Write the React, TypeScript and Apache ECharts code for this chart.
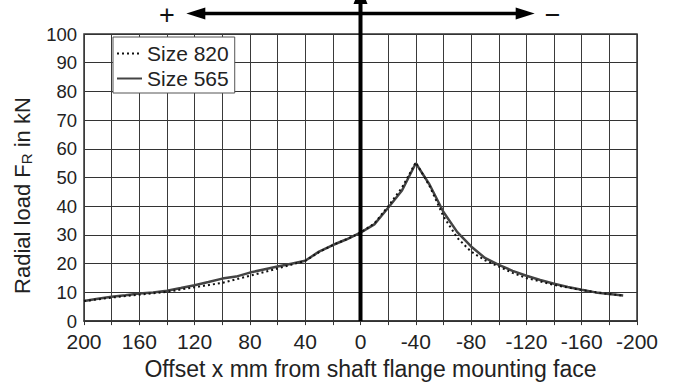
import React, { useEffect, useRef } from 'react';
import * as echarts from 'echarts';

const FONT = '"Liberation Sans", Arial, Helvetica, sans-serif';

// Offset x (mm) and radial load (kN)
const offsets565 = [200, 190, 180, 170, 160, 150, 140, 130, 120, 110, 100, 90, 80, 70, 60, 50, 40, 30, 20, 10, 0, -10, -20, -30, -40, -50, -60, -70, -80, -90, -100, -110, -120, -130, -140, -150, -160, -170, -180, -190];
const size565 = [7.0, 7.8, 8.5, 9.0, 9.6, 10.0, 10.6, 11.5, 12.5, 13.6, 14.8, 15.5, 16.9, 18.0, 19.0, 20.0, 21.0, 24.2, 26.5, 28.5, 30.8, 33.7, 39.5, 45.5, 55.0, 47.5, 38.0, 31.0, 26.0, 22.0, 19.6, 17.5, 15.8, 14.3, 13.0, 11.9, 10.9, 10.0, 9.4, 8.9];

const offsets820 = [200, 180, 160, 140, 120, 100, 80, 60, 40, 30, 20, 10, 0, -10, -20, -30, -40, -50, -60, -70, -80, -90, -100, -110, -120, -130, -140, -160, -180, -190];
const size820 = [7.0, 8.2, 9.2, 10.2, 11.8, 13.3, 15.8, 18.3, 21.0, 24.0, 26.5, 28.5, 30.8, 34.0, 40.0, 46.5, 55.3, 47.0, 36.5, 29.0, 24.2, 21.2, 19.0, 16.8, 15.0, 13.8, 12.6, 10.8, 9.4, 8.9];

const seriesNames = ['Size 820', 'Size 565'];

export default function App() {
  const ref = useRef<HTMLDivElement>(null);

  useEffect(() => {
    if (!ref.current) return;
    const chart = echarts.init(ref.current, undefined, { renderer: 'svg' });
    const option: any = {
      animation: false,
      backgroundColor: '#fff',
      grid: {
        left: 84, right: 37, top: 34, bottom: 60,
        show: true, borderColor: '#333', borderWidth: 1.5, backgroundColor: 'transparent',
      },
      legend: {
        orient: 'vertical', left: 113, top: 37,
        backgroundColor: '#fff', borderColor: '#555', borderWidth: 1,
        padding: [6, 6, 4, 3], itemGap: 4, itemWidth: 25, itemHeight: 14,
        itemStyle: { opacity: 0 },
        textStyle: { fontSize: 21, color: '#222', fontFamily: FONT },
        data: seriesNames,
      },
      xAxis: {
        type: 'value', inverse: true, min: -200, max: 200, interval: 40,
        axisLine: { show: true, onZero: false, lineStyle: { color: '#333', width: 1.5 } },
        axisTick: { show: true, inside: false, length: 4, lineStyle: { color: '#333' } },
        minorTick: { show: true, splitNumber: 2, length: 4, lineStyle: { color: '#333' } },
        splitLine: { show: true, lineStyle: { color: '#3a3a3a', width: 1 } },
        minorSplitLine: { show: true, lineStyle: { color: '#3a3a3a', width: 1 } },
        axisLabel: { fontSize: 21, color: '#222', margin: 10, fontFamily: FONT },
        name: 'Offset x mm from shaft flange mounting face',
        nameLocation: 'middle', nameGap: 33,
        nameTextStyle: { fontSize: 23, color: '#222', fontFamily: FONT, padding: [0, 0, 0, 20] },
      },
      yAxis: {
        type: 'value', min: 0, max: 100, interval: 10,
        axisLine: { show: true, lineStyle: { color: '#333', width: 1.5 } },
        axisTick: { show: true, inside: false, length: 4, lineStyle: { color: '#333' } },
        splitLine: { show: true, lineStyle: { color: '#333', width: 1 } },
        axisLabel: { fontSize: 18.5, color: '#222', margin: 7, fontFamily: FONT },
        name: 'Radial load F{sub|R} in kN',
        nameLocation: 'middle', nameGap: 50,
        nameTextStyle: {
          fontSize: 22, color: '#222', fontFamily: FONT, padding: [0, 36, 0, 0],
          rich: { sub: { fontSize: 15, color: '#222', fontFamily: FONT, verticalAlign: 'bottom', padding: [8, 0, 0, 0] } },
        },
      },
      series: [
        {
          name: 'Size 820', type: 'line', symbol: 'none', z: 3,
          data: offsets820.map((x, i) => [x, size820[i]]),
          lineStyle: { color: '#111', width: 2, type: [2, 3] },
          itemStyle: { color: '#111' },
        },
        {
          name: 'Size 565', type: 'line', symbol: 'none', z: 2,
          data: offsets565.map((x, i) => [x, size565[i]]),
          lineStyle: { color: '#444', width: 2.5 },
          itemStyle: { color: '#444' },
        },
      ],
    };
    chart.setOption(option);

    const x0 = chart.convertToPixel({ xAxisIndex: 0 }, 0) as number;
    const y0 = chart.convertToPixel({ yAxisIndex: 0 }, 0) as number;
    const xL = chart.convertToPixel({ xAxisIndex: 0 }, 126) as number;
    const xR = chart.convertToPixel({ xAxisIndex: 0 }, -126) as number;
    const xPlus = chart.convertToPixel({ xAxisIndex: 0 }, 140) as number;
    const xMinus = chart.convertToPixel({ xAxisIndex: 0 }, -139) as number;
    const ay = 13.5;
    const head = 19;
    const hw = 6;

    chart.setOption({
      graphic: [
        { type: 'line', z: 100, shape: { x1: x0, y1: y0, x2: x0, y2: 4 }, style: { stroke: '#000', lineWidth: 4 } },
        { type: 'polygon', z: 100, shape: { points: [[x0 - 7, 4], [x0 + 7, 4], [x0, -14]] }, style: { fill: '#000' } },
        { type: 'line', z: 100, shape: { x1: xL + head - 2, y1: ay, x2: xR - head + 2, y2: ay }, style: { stroke: '#000', lineWidth: 3.5 } },
        { type: 'polygon', z: 100, shape: { points: [[xL, ay], [xL + head, ay - hw], [xL + head, ay + hw]] }, style: { fill: '#000' } },
        { type: 'polygon', z: 100, shape: { points: [[xR, ay], [xR - head, ay - hw], [xR - head, ay + hw]] }, style: { fill: '#000' } },
        { type: 'text', z: 100, x: xPlus, y: ay + 1.5, style: { text: '+', fontSize: 27, fill: '#111', fontFamily: FONT, align: 'center', verticalAlign: 'middle' } },
        { type: 'text', z: 100, x: xMinus, y: ay + 1.5, style: { text: '\u2212', fontSize: 27, fill: '#111', fontFamily: FONT, align: 'center', verticalAlign: 'middle' } },
      ],
    });

    return () => chart.dispose();
  }, []);

  return <div ref={ref} style={{ width: 674, height: 385, position: 'absolute', left: 0, top: 0 }} />;
}
